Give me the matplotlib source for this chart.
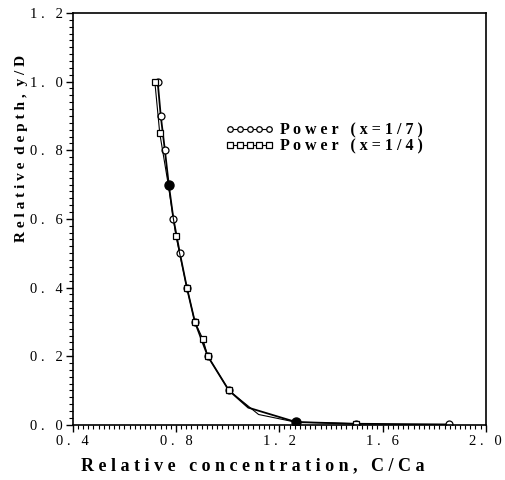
import matplotlib
matplotlib.use("Agg")
import matplotlib.pyplot as plt
from matplotlib.ticker import MultipleLocator, FixedLocator

# series
y_17 = [1.0, 0.9, 0.8, 0.7, 0.6, 0.5, 0.4, 0.3, 0.2, 0.1, 0.05, 0.008, 0.003, 0.001]
x_17 = [0.729, 0.741, 0.757, 0.772, 0.790, 0.815, 0.842, 0.873, 0.923, 1.005, 1.080, 1.265, 1.497, 1.857]
y_14 = [1.0, 0.85, 0.7, 0.55, 0.4, 0.3, 0.25, 0.2, 0.1, 0.03, 0.008, 0.003]
x_14 = [0.718, 0.737, 0.770, 0.800, 0.842, 0.873, 0.904, 0.923, 1.005, 1.120, 1.262, 1.497]
filled_x = [0.772, 1.265]
filled_y = [0.7, 0.008]

xticks = [0.4, 0.8, 1.2, 1.6, 2.0]
yticks = [0.0, 0.2, 0.4, 0.6, 0.8, 1.0, 1.2]

serif = 'Liberation Serif'
fig = plt.figure(figsize=(5.05, 4.80), dpi=100)
ax = fig.add_axes([0.144, 0.115, 0.818, 0.858])

ax.plot(x_17, y_17, color='black', lw=1.3, marker='o', ms=5, mfc='white',
        mec='black', mew=0.9, markevery=[0, 1, 2, 4, 5, 6, 7, 8, 9, 12, 13],
        label='P o w e r   ( x = 1 / 7 )')
ax.plot(x_14, y_14, color='black', lw=0.8, marker='s', ms=4.5, mfc='white',
        mec='black', mew=0.9, markevery=[0, 1, 3, 4, 5, 6, 7, 8, 11],
        label='P o w e r   ( x = 1 / 4 )')
ax.plot(filled_x, filled_y, ls='none', marker='o', ms=6.5, color='black')

ax.set_xlim(0.4, 2.0)
ax.set_ylim(0.0, 1.2)
ax.xaxis.set_major_locator(FixedLocator(xticks))
ax.yaxis.set_major_locator(FixedLocator(yticks))
ax.xaxis.set_minor_locator(MultipleLocator(0.02))
ax.yaxis.set_minor_locator(MultipleLocator(0.02))
fmt = lambda v: ('%.1f' % v).replace('.', ' .   ')
ax.set_xticklabels([fmt(v) for v in xticks], family=serif, fontsize=10.5)
ax.set_yticklabels([fmt(v) for v in yticks], family=serif, fontsize=10.5)
ax.tick_params(which='major', direction='out', length=5, width=1, pad=2)
ax.tick_params(which='minor', direction='out', length=3, width=0.8)
for s in ax.spines.values():
    s.set_linewidth(1.2)

ax.set_xlabel('R e l a t i v e   c o n c e n t r a t i o n ,   C / C a',
              family=serif, fontsize=13, fontweight='bold', va='center')
ax.xaxis.set_label_coords(0.436, -0.1)
ax.set_ylabel('R e l a t i v e  d e p t h ,  y / D',
              family=serif, fontsize=11, fontweight='bold', va='center')
ax.yaxis.set_label_coords(-0.125, 0.672)

leg = ax.legend(loc='upper left', bbox_to_anchor=(0.37, 0.735), frameon=False,
                numpoints=5, handlelength=3.0, handletextpad=0.4,
                borderpad=0, borderaxespad=0, labelspacing=0.0,
                prop={'family': serif, 'size': 11.5, 'weight': 'bold'})
for h in leg.legend_handles:
    h.set_markersize(4)
    h.set_linewidth(0.8)

fig.savefig('out.png', dpi=100)
